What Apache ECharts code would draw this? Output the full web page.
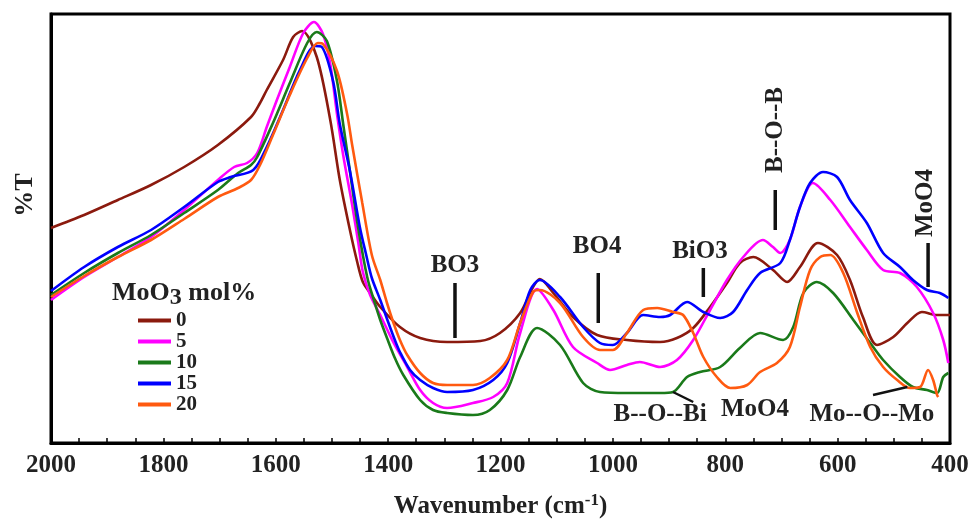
<!DOCTYPE html>
<html>
<head>
<meta charset="utf-8">
<script src="https://cdn.jsdelivr.net/npm/echarts@6/dist/echarts.min.js"></script>
<style>
html,body{margin:0;padding:0;background:#fff;}
#chart{width:970px;height:519px;}
</style>
</head>
<body>
<div id="chart"></div>
<script>
// ---- Data (wavenumber in cm-1, transmittance in arbitrary units) ----
const seriesNames = ['0', '5', '10', '15', '20'];

const wave0 = [2000,1941,1881,1822,1763,1703,1644,1628,1616,1587,1569,1553,1527,1503,1486,1468,1455,1445,1432,1414,1379,1343,1295,1236,1201,1165,1142,1130,1106,1071,1028,975,916,886,857,827,797,774,750,715,690,667,635,601,578,555,530,501,476,450,423,400];
const trans0 = [215,228,243,258,276,298,326,340,353,383,406,412,386,323,263,213,181,161,150,136,116,105,101,102,110,130,156,164,150,126,108,103,101,105,115,136,160,180,186,173,161,176,200,188,163,126,98,106,120,131,128,128];

const wave5 = [2000,1941,1881,1822,1763,1703,1674,1651,1633,1616,1598,1575,1551,1532,1516,1503,1491,1480,1464,1453,1445,1432,1414,1391,1366,1343,1320,1295,1249,1213,1188,1165,1135,1106,1071,1028,1005,975,952,916,886,857,827,797,768,733,715,702,685,667,644,613,578,548,519,489,459,430,412,403];
const trans5 = [143,166,186,206,233,263,276,280,290,316,343,376,410,421,409,379,329,288,238,200,171,148,128,101,76,53,40,35,40,46,60,110,154,133,96,80,73,78,81,76,83,103,133,163,186,203,196,190,203,236,260,243,216,193,173,170,156,130,103,80];

const wave10 = [2000,1941,1881,1822,1763,1703,1667,1644,1633,1605,1575,1544,1527,1509,1491,1480,1468,1455,1445,1436,1427,1414,1402,1388,1373,1343,1320,1295,1249,1219,1188,1165,1135,1094,1053,1023,975,916,893,868,845,809,774,738,697,679,661,637,608,572,542,519,489,466,441,423,412,403];
const trans10 = [148,170,190,208,230,253,270,278,286,320,360,400,411,402,362,319,272,221,188,163,146,123,105,85,68,43,33,30,28,33,53,86,115,98,60,51,50,50,51,66,71,76,95,110,103,116,150,161,150,123,100,83,66,56,53,50,66,70];

const wave15 = [2000,1941,1881,1822,1763,1703,1680,1640,1616,1587,1557,1530,1518,1498,1486,1468,1450,1439,1429,1414,1400,1388,1379,1361,1343,1320,1295,1249,1213,1188,1165,1147,1130,1094,1053,1023,1000,975,946,916,898,868,839,809,786,761,738,702,685,667,649,626,601,578,548,519,489,466,441,418,403];
const trans15 = [152,176,196,213,236,261,266,273,296,333,373,397,396,362,319,272,215,188,165,143,121,103,91,73,63,55,51,53,63,80,120,153,163,146,116,100,98,110,128,126,128,141,131,125,131,153,170,180,203,236,260,271,266,243,220,190,176,163,153,150,145];

const wave20 = [2000,1941,1881,1822,1763,1703,1667,1644,1628,1605,1575,1544,1525,1516,1491,1473,1464,1446,1429,1414,1402,1391,1379,1366,1343,1320,1295,1249,1219,1188,1165,1142,1130,1094,1053,1023,1000,975,946,921,893,875,857,839,815,791,761,738,708,685,667,649,631,613,590,565,542,519,494,471,453,439,430,423,421];
const trans20 = [146,167,186,203,224,246,255,263,278,308,348,385,400,399,372,329,298,240,188,163,140,121,103,88,70,60,58,58,65,83,120,151,153,140,106,93,93,110,133,135,131,128,110,86,66,55,58,71,80,96,136,173,186,188,170,130,96,76,63,55,56,73,63,48,46];

const xTickLabels = [2000,1800,1600,1400,1200,1000,800,600,400];

// Band assignments
const bandLabels = ['BO3','BO4','BiO3','B--O--B','MoO4','B--O--Bi','MoO4','Mo--O--Mo'];
const bandLabelWave = [1281,1028,845,711,444,916,747,539];
const bandLabelValue = [177,196,191,313,240,28,33,28];
const bandLabelVertical = [false,false,false,true,true,false,false,false];
const bandBarWave = [1281,1026,839,711,439];
const bandBarLow = [105,120,146,213,156];
const bandBarHigh = [160,170,175,253,200];
const leaderLines = [[893,51,857,41],[537,48,476,56]];

const waves = [wave0, wave5, wave10, wave15, wave20];
const trans = [trans0, trans5, trans10, trans15, trans20];
const colors = ['#8B1A0E', '#FF00FF', '#1A7A1A', '#0000FF', '#FF5A10'];
const FONT = "'Liberation Serif','Times New Roman',serif";

const series = seriesNames.map((n, k) => ({
  name: n,
  type: 'line',
  data: waves[k].map((w, i) => [w, trans[k][i]]),
  showSymbol: false,
  smooth: 0.3,
  lineStyle: { color: colors[k], width: 2.6 },
  itemStyle: { color: colors[k] },
  z: 2 + k
}));

const chart = echarts.init(document.getElementById('chart'), null, { renderer: 'canvas' });
chart.setOption({
  animation: false,
  backgroundColor: '#fff',
  grid: {
    left: 51, right: 20, top: 14, bottom: 76,
    containLabel: false, outerBoundsMode: 'none',
    show: true, borderColor: '#000', borderWidth: 3, backgroundColor: 'transparent'
  },
  title: {
    left: 112, top: 276, padding: 0,
    text: '{a|MoO}{s|3}{a| mol%}',
    textStyle: {
      rich: {
        a: { fontFamily: FONT, fontWeight: 'bold', fontSize: 26, color: '#222' },
        s: { fontFamily: FONT, fontWeight: 'bold', fontSize: 24, color: '#222', padding: [10, 0, 0, 0] }
      }
    }
  },
  legend: {
    orient: 'vertical', left: 138, top: 310, padding: 0,
    icon: 'rect', itemWidth: 33, itemHeight: 4, itemGap: 0,
    textStyle: { fontFamily: FONT, fontWeight: 'bold', fontSize: 21, color: '#222', lineHeight: 20.5 },
    data: seriesNames
  },
  xAxis: {
    type: 'value', min: 400, max: 2000, interval: 50, inverse: true,
    name: '{a|Wavenumber (cm}{s|-1}{a|)}',
    nameLocation: 'middle', nameGap: 49,
    nameTextStyle: {
      rich: {
        a: { fontFamily: FONT, fontWeight: 'bold', fontSize: 25, color: '#222' },
        s: { fontFamily: FONT, fontWeight: 'bold', fontSize: 17, color: '#222', padding: [0, 0, 12, 0] }
      }
    },
    axisLine: { lineStyle: { color: '#000', width: 3 } },
    axisTick: { inside: true, length: 5, lineStyle: { color: '#000', width: 1.5 } },
    splitLine: { show: false },
    axisLabel: {
      margin: 10, fontFamily: FONT, fontWeight: 'bold', fontSize: 25, color: '#222',
      formatter: v => xTickLabels.indexOf(v) >= 0 ? String(v) : ''
    }
  },
  yAxis: {
    type: 'value', min: 0, max: 429,
    axisLine: { show: true, lineStyle: { color: '#000', width: 3 } },
    axisTick: { show: false }, axisLabel: { show: false }, splitLine: { show: false }
  },
  series: series
});

// Band annotations placed through the chart's own coordinate system
const P = (w, v) => chart.convertToPixel({ gridIndex: 0 }, [w, v]);
const graphics = [];
bandBarWave.forEach((w, i) => {
  const a = P(w, bandBarLow[i]), b = P(w, bandBarHigh[i]);
  graphics.push({ type: 'line', shape: { x1: a[0], y1: a[1], x2: b[0], y2: b[1] }, style: { stroke: '#111', lineWidth: 3.5 }, z: 20 });
});
leaderLines.forEach(l => {
  const a = P(l[0], l[1]), b = P(l[2], l[3]);
  graphics.push({ type: 'line', shape: { x1: a[0], y1: a[1], x2: b[0], y2: b[1] }, style: { stroke: '#111', lineWidth: 2.5 }, z: 20 });
});
bandLabels.forEach((t, i) => {
  const p = P(bandLabelWave[i], bandLabelValue[i]);
  graphics.push({
    type: 'text', x: p[0], y: p[1], rotation: bandLabelVertical[i] ? Math.PI / 2 : 0, z: 20,
    style: { text: t, fontFamily: FONT, fontWeight: 'bold', fontSize: 25, fill: '#222', align: 'center', verticalAlign: 'middle' }
  });
});
graphics.push({
  type: 'text', x: 25, y: 195, rotation: Math.PI / 2, z: 20,
  style: { text: '%T', fontFamily: FONT, fontWeight: 'bold', fontSize: 26, fill: '#222', align: 'center', verticalAlign: 'middle' }
});
chart.setOption({ graphic: graphics });
</script>
</body>
</html>
